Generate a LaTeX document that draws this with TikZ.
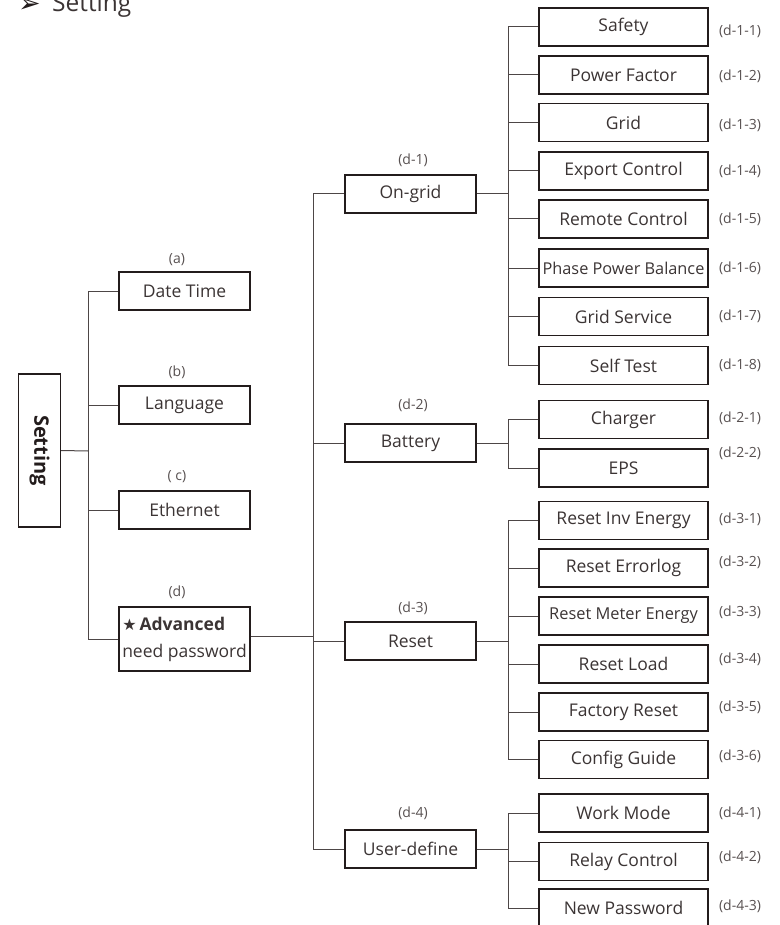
\documentclass[tikz,border=0pt]{standalone}
\usepackage{fontspec}
\setmainfont{Open Sans}
\newfontfamily\symfont{DejaVu Sans}
\definecolor{txt}{HTML}{3B3434}
\definecolor{labc}{HTML}{575050}
\definecolor{boxc}{HTML}{231C1C}
\definecolor{linec}{HTML}{4D4646}
\tikzset{
  box/.style={draw=boxc, line width=1.3pt, minimum height=38pt, inner sep=0pt,
    text=txt, font=\fontsize{17.5}{21}\selectfont},
  lbox/.style={box, minimum width=131pt},
  rbox/.style={box, minimum width=169pt},
  lab/.style={text=labc, inner sep=0pt, font=\fontsize{14}{16}\selectfont},
  conn/.style={draw=linec, line width=1pt},
}
\begin{document}
\begin{tikzpicture}[x=1pt,y=-1pt]
\useasboundingbox (0,0) rectangle (779,925);
\clip (0,0) rectangle (779,925);
% heading
\node[anchor=base west, inner sep=0pt, text=boxc, font=\fontsize{27}{30}\symfont] (harrow) at (18,13) {➢};
\node[anchor=base west, inner sep=0pt, text=txt, font=\fontsize{24.5}{28}\selectfont] (htitle) at (52,12) {Setting};
% root
\node[box, minimum width=42pt, minimum height=153pt] (set) at (39.5,450.5) {};
\node[rotate=-90, text=boxc, inner sep=0pt, font=\fontsize{20}{22}\selectfont\bfseries] (settxt) at (set.center) {Setting};
% level 1
\node[lbox] (dt) at (184.5,291) {Date Time};
\node[lbox] (lang) at (184.5,405) {Language};
\node[lbox] (eth) at (184.5,510) {Ethernet};
\node[lbox, minimum height=64pt, align=left,
      font=\fontsize{17.5}{27}\selectfont] (adv) at (184.5,639)
      {{\symfont\fontsize{16}{16}\selectfont ★}\,\textbf{Advanced}\\need password};
\node[lab] (la) at (177,260) {(a)};
\node[lab] (lb) at (177,372) {(b)};
\node[lab] (lc) at (177,477) {( c)};
\node[lab] (ld) at (177,592) {(d)};
% level 2
\node[lbox] (ong) at (410.5,194) {On-grid};
\node[lbox] (bat) at (410.5,443) {Battery};
\node[lbox] (rst) at (410.5,641) {Reset};
\node[lbox] (usr) at (410.5,849) {User-define};
\node[lab] (ld1) at (413,160) {(d-1)};
\node[lab] (ld2) at (413,405) {(d-2)};
\node[lab] (ld3) at (413,608) {(d-3)};
\node[lab] (ld4) at (413,813) {(d-4)};
% level 3
\node[rbox] (s1) at (623.5,27) {Safety};
\node[rbox] (s2) at (623.5,75) {Power Factor};
\node[rbox] (s3) at (623.5,122.5) {Grid};
\node[rbox] (s4) at (623.5,171) {Export Control};
\node[rbox] (s5) at (623.5,219) {Remote Control};
\node[rbox, font=\fontsize{16.3}{20}\selectfont] (s6) at (623.5,268) {Phase Power Balance};
\node[rbox] (s7) at (623.5,316.5) {Grid Service};
\node[rbox] (s8) at (623.5,365.5) {Self Test};
\node[rbox] (b1) at (623.5,419.5) {Charger};
\node[rbox] (b2) at (623.5,468) {EPS};
\node[rbox] (r1) at (623.5,520.5) {Reset Inv Energy};
\node[rbox] (r2) at (623.5,568) {Reset Errorlog};
\node[rbox, font=\fontsize{16.4}{20}\selectfont] (r3) at (623.5,616) {Reset Meter Energy};
\node[rbox] (r4) at (623.5,664) {Reset Load};
\node[rbox] (r5) at (623.5,712) {Factory Reset};
\node[rbox] (r6) at (623.5,759.5) {Config Guide};
\node[rbox] (u1) at (623.5,813) {Work Mode};
\node[rbox] (u2) at (623.5,861.5) {Relay Control};
\node[rbox] (u3) at (623.5,908) {New Password};
% right labels
\node[lab] (ls1) at (740,31) {(d-1-1)};
\node[lab] (ls2) at (740,76) {(d-1-2)};
\node[lab] (ls3) at (740,125) {(d-1-3)};
\node[lab] (ls4) at (740,171) {(d-1-4)};
\node[lab] (ls5) at (740,219) {(d-1-5)};
\node[lab] (ls6) at (740,268) {(d-1-6)};
\node[lab] (ls7) at (740,316) {(d-1-7)};
\node[lab] (ls8) at (740,365) {(d-1-8)};
\node[lab] (lb1) at (740,418) {(d-2-1)};
\node[lab] (lb2) at (740,453) {(d-2-2)};
\node[lab] (lr1) at (740,519) {(d-3-1)};
\node[lab] (lr2) at (740,562) {(d-3-2)};
\node[lab] (lr3) at (740,612) {(d-3-3)};
\node[lab] (lr4) at (740,659) {(d-3-4)};
\node[lab] (lr5) at (740,707) {(d-3-5)};
\node[lab] (lr6) at (740,756) {(d-3-6)};
\node[lab] (lu1) at (740,813) {(d-4-1)};
\node[lab] (lu2) at (740,857) {(d-4-2)};
\node[lab] (lu3) at (740,906) {(d-4-3)};
% trunk coordinates
\coordinate (t1) at (88,451);
\coordinate (t2) at (313,636);
\coordinate (t3) at (508,0);
% connectors level 1
\draw[conn] (set.east) -- (t1);
\draw[conn] (dt.west) -- (dt.west -| t1) -- (adv.west -| t1) -- (adv.west);
\draw[conn] (lang.west) -- (lang.west -| t1);
\draw[conn] (eth.west) -- (eth.west -| t1);
% connectors level 2
\draw[conn] (adv.east |- t2) -- (t2);
\draw[conn] (ong.west) -- (ong.west -| t2) -- (usr.west -| t2) -- (usr.west);
\draw[conn] (bat.west) -- (bat.west -| t2);
\draw[conn] (rst.west) -- (rst.west -| t2);
% connectors level 3
\draw[conn] (ong.east) -- (ong.east -| t3);
\draw[conn] (s1.west) -- (s1.west -| t3) -- (s8.west -| t3) -- (s8.west);
\foreach \n in {s2,s3,s4,s5,s6,s7} \draw[conn] (\n.west) -- (\n.west -| t3);
\draw[conn] (bat.east) -- (bat.east -| t3);
\draw[conn] (b1.west) -- (b1.west -| t3) -- (b2.west -| t3) -- (b2.west);
\draw[conn] (rst.east) -- (rst.east -| t3);
\draw[conn] (r1.west) -- (r1.west -| t3) -- (r6.west -| t3) -- (r6.west);
\foreach \n in {r2,r3,r4,r5} \draw[conn] (\n.west) -- (\n.west -| t3);
\draw[conn] (usr.east) -- (usr.east -| t3);
\draw[conn] (u1.west) -- (u1.west -| t3) -- (u3.west -| t3) -- (u3.west);
\draw[conn] (u2.west) -- (u2.west -| t3);
\end{tikzpicture}
\end{document}
